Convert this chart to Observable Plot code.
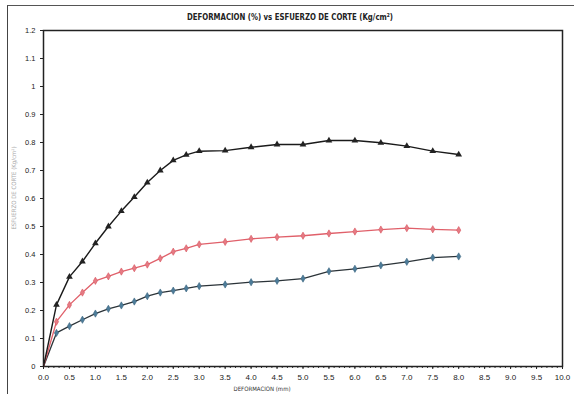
<!DOCTYPE html>
<html>
<head>
<meta charset="utf-8">
<script src="https://cdn.jsdelivr.net/npm/d3@7"></script>
<script src="https://cdn.jsdelivr.net/npm/@observablehq/plot@0.6"></script>
<style>
  html, body { margin: 0; padding: 0; background: #fff; }
  #wrap { position: relative; width: 574px; height: 394px; overflow: hidden; background: #fff; }
  #border { position: absolute; left: 7px; top: 5px; width: 600px; height: 400px;
            border-left: 1.5px solid #444; border-top: 1.5px solid #555; }
  #title { position: absolute; left: 0; width: 580px; top: 12px; text-align: center;
           font: bold 9px "DejaVu Sans Condensed", "Liberation Sans", sans-serif; color: #222;
           transform: scaleX(0.86); transform-origin: 290px 0; letter-spacing: 0px; }
  #ylab { position: absolute; left: 13px; top: 188px; transform: translate(-50%, -50%) rotate(-90deg);
          white-space: nowrap; font: 6px "DejaVu Sans Condensed", sans-serif; color: #aaa; }
  #xlab { position: absolute; left: 262px; top: 385px; transform: translateX(-50%);
          white-space: nowrap; font: 6px/7px "DejaVu Sans Condensed", sans-serif; color: #333; }
  #chart { position: absolute; left: 0; top: 0; }
</style>
</head>
<body>
<div id="wrap">
  <div id="chart"></div>
  <div id="border"></div>
  <div id="title">DEFORMACION (%) vs ESFUERZO DE CORTE (Kg/cm²)</div>
  <div id="ylab">ESFUERZO DE CORTE (Kg/cm²)</div>
  <div id="xlab">DEFORMACION (mm)</div>
</div>
<script>
const deformacion = [0, 0.25, 0.5, 0.75, 1.0, 1.25, 1.5, 1.75, 2.0, 2.25, 2.5, 2.75, 3.0,
                     3.5, 4.0, 4.5, 5.0, 5.5, 6.0, 6.5, 7.0, 7.5, 8.0];
const serieNegra = [0, 0.22, 0.32, 0.375, 0.44, 0.50, 0.555, 0.605, 0.657, 0.70, 0.736, 0.756, 0.769,
                    0.771, 0.783, 0.793, 0.793, 0.807, 0.807, 0.799, 0.787, 0.769, 0.757];
const serieRoja = [0, 0.16, 0.22, 0.264, 0.306, 0.322, 0.339, 0.351, 0.364, 0.386, 0.41, 0.422, 0.436,
                   0.445, 0.456, 0.462, 0.467, 0.475, 0.482, 0.489, 0.494, 0.490, 0.487];
const serieAzul = [0, 0.12, 0.144, 0.167, 0.189, 0.206, 0.218, 0.232, 0.251, 0.264, 0.271, 0.279, 0.287,
                   0.293, 0.301, 0.306, 0.314, 0.34, 0.349, 0.361, 0.374, 0.389, 0.393];
const xTicks = [0, 0.5, 1, 1.5, 2, 2.5, 3, 3.5, 4, 4.5, 5, 5.5, 6, 6.5, 7, 7.5, 8, 8.5, 9, 9.5, 10];
const xMinorTicks = d3.range(0, 101).map(i => i / 10);
const yTicks = [0, 0.1, 0.2, 0.3, 0.4, 0.5, 0.6, 0.7, 0.8, 0.9, 1, 1.1, 1.2];

const mk = arr => deformacion.map((x, i) => ({x, y: arr[i]}));
const negra = mk(serieNegra), roja = mk(serieRoja), azul = mk(serieAzul);

const chart = Plot.plot({
  width: 574,
  height: 394,
  marginLeft: 43,
  marginRight: 12,
  marginTop: 30,
  marginBottom: 28,
  style: {fontFamily: "'Liberation Sans', Arial, sans-serif", fontSize: "8px", color: "#222", background: "transparent"},
  x: {domain: [0, 10]},
  y: {domain: [0, 1.2]},
  marks: [
    Plot.axisX({ticks: xMinorTicks, tickSize: 2, tickFormat: () => "", label: null, stroke: "#333"}),
    Plot.axisX({ticks: xTicks, tickSize: 3, tickPadding: 5, tickFormat: d => d.toFixed(1), label: null, stroke: "#222", fontSize: 8}),
    Plot.axisY({ticks: yTicks, tickSize: 3, tickPadding: 5, tickFormat: d => String(+d.toFixed(1)), label: null, stroke: "#222", fontSize: 7.5}),
    Plot.frame({stroke: "#222", strokeWidth: 1.5}),
    Plot.line(azul, {x: "x", y: "y", stroke: "#2b3338", strokeWidth: 1.3}),
    Plot.dot(azul.slice(1), {x: "x", y: "y", symbol: "diamond", r: 2.2, fill: "#4d7c99", stroke: "#3a6480", strokeWidth: 0.6}),
    Plot.line(roja, {x: "x", y: "y", stroke: "#e0606a", strokeWidth: 1.3}),
    Plot.dot(roja.slice(1), {x: "x", y: "y", symbol: "diamond", r: 2.2, fill: "#e57b84", stroke: "#d9545e", strokeWidth: 0.6}),
    Plot.line(negra, {x: "x", y: "y", stroke: "#1a1a1a", strokeWidth: 1.4}),
    Plot.dot(negra.slice(1), {x: "x", y: "y", symbol: "triangle", r: 2.5, fill: "#222", stroke: "none"})
  ]
});
document.getElementById("chart").appendChild(chart);
</script>
</body>
</html>
